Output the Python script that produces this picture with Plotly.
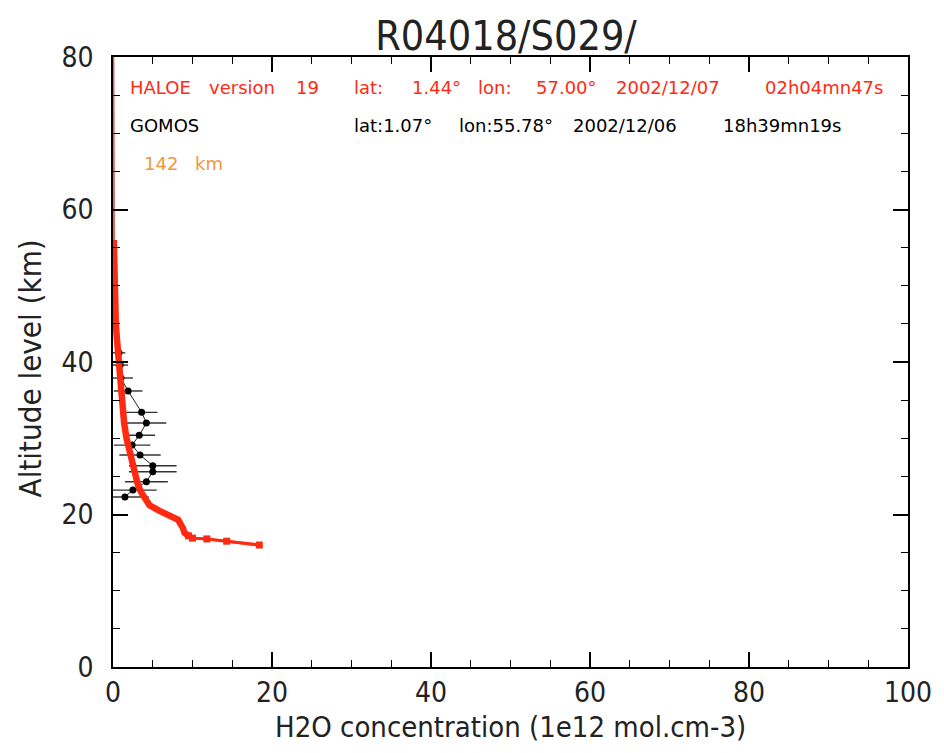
import plotly.graph_objects as go

# HALOE v19 water vapour profile (altitude km, concentration 1e12 mol/cm3)
haloe_alt = [80, 70, 60, 56, 52, 48, 45, 43, 40, 38, 36, 34, 32, 30, 28, 27,
             26, 25, 24, 23, 22, 21.2, 20.5, 19.9, 19.3, 18.2, 17.6, 17.2,
             16.9, 16.8, 16.5, 16.0]
haloe_h2o = [0.02, 0.03, 0.05, 0.1, 0.15, 0.25, 0.35, 0.5, 0.7, 0.8, 0.95,
             1.15, 1.4, 1.7, 2.1, 2.4, 2.6, 2.8, 3.1, 3.5, 4.0, 4.6, 5.8,
             6.8, 8.2, 8.8, 9.0, 9.5, 10.0, 11.8, 14.3, 18.4]

# GOMOS profile with horizontal error bars
gomos_alt = [41.2, 39.6, 37.9, 36.2, 33.4, 32.0, 30.4, 29.1, 27.8, 26.4,
             25.6, 24.3, 23.2, 22.3]
gomos_h2o = [0.75, 0.9, 1.0, 1.9, 3.6, 4.2, 3.3, 2.4, 3.4, 5.0, 5.0, 4.2,
             2.5, 1.5]
gomos_err = [0.8, 1.0, 1.5, 1.8, 2.0, 2.5, 2.0, 2.3, 2.6, 3.0, 3.0, 2.7,
             3.0, 3.0]

x_ticks = [0, 20, 40, 60, 80, 100]
y_ticks = [0, 20, 40, 60, 80]

RED = "#ff2a12"
ORANGE = "#f39640"
TICK_FONT = "DejaVu Sans Condensed, Liberation Sans Narrow, sans-serif"
NOTE_FONT = "DejaVu Sans, sans-serif"

fig = go.Figure()

fig.add_trace(go.Scatter(
    x=gomos_h2o, y=gomos_alt, mode="lines+markers",
    line=dict(color="#222222", width=1),
    marker=dict(symbol="circle", size=7, color="black"),
    error_x=dict(type="data", array=gomos_err, visible=True,
                 color="#333333", thickness=1.4, width=0),
    showlegend=False,
))

# thin full-height profile
fig.add_trace(go.Scatter(
    x=haloe_h2o, y=haloe_alt, mode="lines",
    line=dict(color="rgba(225,70,60,0.85)", width=2.5),
    showlegend=False,
))

# dense part of the profile drawn heavy
heavy = [i for i, a in enumerate(haloe_alt) if 17.0 <= a <= 56]
fig.add_trace(go.Scatter(
    x=[haloe_h2o[i] for i in heavy], y=[haloe_alt[i] for i in heavy],
    mode="lines",
    line=dict(color=RED, width=6.5),
    showlegend=False,
))

# sparse bottom points with square markers
sparse = [i for i, a in enumerate(haloe_alt) if a <= 17.2]
fig.add_trace(go.Scatter(
    x=[haloe_h2o[i] for i in sparse], y=[haloe_alt[i] for i in sparse],
    mode="lines+markers",
    line=dict(color=RED, width=3),
    marker=dict(symbol="square", size=7, color=RED),
    showlegend=False,
))

notes = [
    ("HALOE", 1.9, 76, RED), ("version", 11.8, 76, RED), ("19", 22.8, 76, RED),
    ("lat:", 30.0, 76, RED), ("1.44°", 37.3, 76, RED), ("lon:", 45.7, 76, RED),
    ("57.00°", 52.9, 76, RED), ("2002/12/07", 63.0, 76, RED),
    ("02h04mn47s", 81.8, 76, RED),
    ("GOMOS", 1.9, 71, "black"), ("lat:1.07°", 30.0, 71, "black"),
    ("lon:55.78°", 43.3, 71, "black"), ("2002/12/06", 57.6, 71, "black"),
    ("18h39mn19s", 76.5, 71, "black"),
    ("142", 3.6, 66, ORANGE), ("km", 10.0, 66, ORANGE),
]
for txt, xx, yy, col in notes:
    fig.add_annotation(x=xx, y=yy, text=txt, showarrow=False, xanchor="left",
                       yanchor="middle", font=dict(family=NOTE_FONT, size=18,
                                                   color=col))

# axis titles
fig.add_annotation(x=0.5, y=-0.099, xref="paper", yref="paper",
                   text="H2O concentration (1e12 mol.cm-3)", showarrow=False,
                   xanchor="center", yanchor="middle",
                   font=dict(family=TICK_FONT, size=29, color="#222222"))
fig.add_annotation(x=-0.104, y=0.49, xref="paper", yref="paper",
                   text="Altitude level (km)", showarrow=False, textangle=-90,
                   xanchor="center", yanchor="middle",
                   font=dict(family=TICK_FONT, size=31, color="#222222"))

axis_common = dict(
    showgrid=False, zeroline=False, showline=True, linecolor="black",
    linewidth=1.5, mirror="allticks", ticks="inside", ticklen=15,
    tickwidth=1.5, tickcolor="black",
    tickfont=dict(family=TICK_FONT, size=28, color="#222222"),
)

fig.update_xaxes(
    range=[0, 100], tickvals=x_ticks, ticktext=[str(v) for v in x_ticks],
    minor=dict(dtick=5, ticks="inside", ticklen=7, tickcolor="black",
               tickwidth=1.2),
    ticklabelstandoff=0,
    **axis_common,
)
fig.update_yaxes(
    range=[0, 80], tickvals=y_ticks, ticktext=[str(v) for v in y_ticks],
    minor=dict(dtick=5, ticks="inside", ticklen=7, tickcolor="black",
               tickwidth=1.2),
    ticklabelstandoff=12,
    **axis_common,
)

fig.update_layout(
    width=944, height=753,
    margin=dict(l=113, r=34, t=57, b=86),
    paper_bgcolor="white", plot_bgcolor="white",
    title=dict(text="R04018/S029/", x=0.536, xanchor="center", y=0.953,
               yanchor="middle",
               font=dict(family=TICK_FONT, size=41, color="#222222")),
)

fig.write_html("out.html")
